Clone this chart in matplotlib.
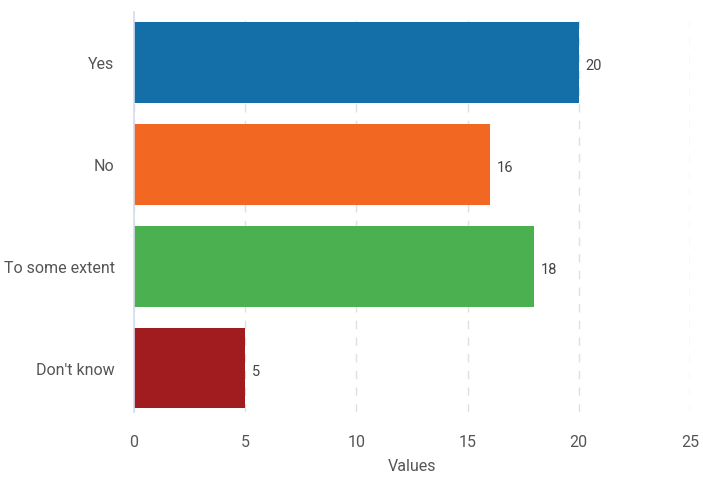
import matplotlib.pyplot as plt

# answers and counts
categories = ["Yes", "No", "To some extent", "Don't know"]
counts = [20, 16, 18, 5]
colors = ["#146fa8", "#f26722", "#4bb050", "#a11c1f"]

plt.rcParams['font.family'] = ['Roboto', 'DejaVu Sans']

fig = plt.figure(figsize=(7.03, 4.81), dpi=100)
ax = fig.add_axes([0.1906, 0.1414, 0.7909, 0.8316])

pos = range(len(categories))
ax.barh(pos, counts, height=0.79, color=colors, zorder=2)
for y, v in zip(pos, counts):
    ax.text(v + 0.3, y + 0.03, str(v), va='center', ha='left', fontsize=10.5, color='#444444')

ax.set_yticks(list(pos))
ax.set_yticklabels(categories)
ax.set_ylim(3.43, -0.495)
ax.set_xlim(0, 25)
ax.set_xticks([0, 5, 10, 15, 20, 25])

ax.grid(axis='x', linestyle=(0, (6, 6)), color='#e0e0e0', linewidth=1, zorder=0)
for s in ['top', 'right', 'bottom']:
    ax.spines[s].set_visible(False)
ax.spines['left'].set_color('#d5dcee')
ax.spines['left'].set_linewidth(1.2)

ax.tick_params(axis='both', length=0, labelsize=11.5, labelcolor='#555555')
ax.tick_params(axis='x', pad=16)
ax.tick_params(axis='y', pad=14)
ax.set_xlabel("Values", fontsize=11.5, color='#555555', labelpad=6)

fig.savefig("out.png", dpi=100)
